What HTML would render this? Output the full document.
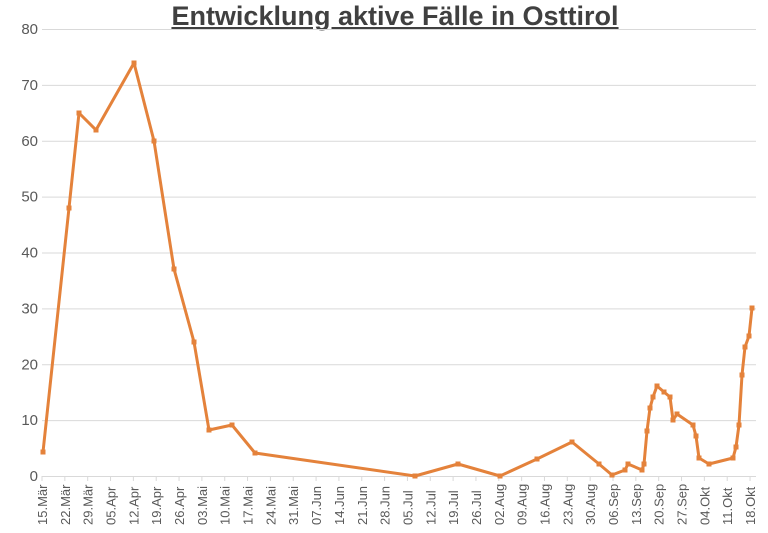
<!DOCTYPE html>
<html><head><meta charset="utf-8"><style>
body{margin:0;background:#fff;}
text{font-family:"Liberation Sans",sans-serif;fill:#595959;}
</style></head><body>
<svg width="768" height="528" xmlns="http://www.w3.org/2000/svg">
<rect width="768" height="528" fill="#fff"/>
<text x="395" y="25" text-anchor="middle" font-size="27" font-weight="bold" style="fill:#404040;text-decoration:underline">Entwicklung aktive Fälle in Osttirol</text>
<g id="grid" stroke="#d9d9d9" stroke-width="1"></g>
<g id="yl" font-size="15"></g>
<g id="xl" font-size="13"></g>
<polyline id="line" fill="none" stroke="#e4823b" stroke-width="3" stroke-linejoin="round"/>
<g id="mk" fill="#e4823b"></g>
</svg>
<script>
var ns="http://www.w3.org/2000/svg";
function el(t,a,p,txt){var e=document.createElementNS(ns,t);for(var k in a)e.setAttribute(k,a[k]);if(txt!=null)e.textContent=txt;document.getElementById(p).appendChild(e);}
for(var k=0;k<=8;k++){var y=476-55.875*k;el('line',{x1:42,x2:756,y1:y+0.5,y2:y+0.5},'grid');el('text',{x:38,y:y+5,'text-anchor':'end'},'yl',String(k*10));}
var labs=["15.Mär","22.Mär","29.Mär","05.Apr","12.Apr","19.Apr","26.Apr","03.Mai","10.Mai","17.Mai","24.Mai","31.Mai","07.Jun","14.Jun","21.Jun","28.Jun","05.Jul","12.Jul","19.Jul","26.Jul","02.Aug","09.Aug","16.Aug","23.Aug","30.Aug","06.Sep","13.Sep","20.Sep","27.Sep","04.Okt","11.Okt","18.Okt"];
labs.forEach(function(l,i){var x=42+i*22.84;el('line',{x1:x,x2:x,y1:476,y2:481},'grid');el('text',{transform:'translate('+(x+5)+',525) rotate(-90)'},'xl',l);});
var pts=[[43,452],[69,208],[79,113],[96,130],[134,63],[154,141],[174,269],[194,342],[209,430],[232,425],[255,453],[415,476],[458,464],[500,476],[537,459],[572,442],[599,464],[612,475],[625,470],[628,464],[642,470],[644,464],[647,431],[650,408],[653,397],[657,386],[664,392],[670,397],[673,420],[677,414],[693,425],[696,436],[699,458],[709,464],[733,458],[736,447],[739,425],[742,375],[745,347],[749,336],[752,308]];
document.getElementById('line').setAttribute('points',pts.map(function(p){return p.join(',')}).join(' '));
pts.forEach(function(p){el('rect',{x:p[0]-2.5,y:p[1]-2.5,width:5,height:5},'mk');});
</script>
</body></html>
